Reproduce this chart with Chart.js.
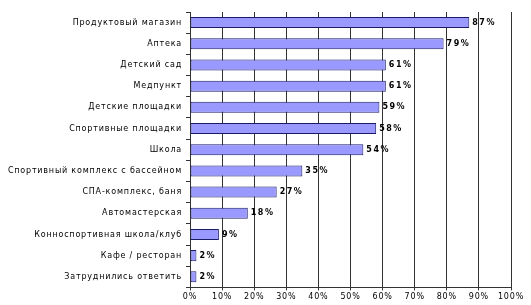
<!DOCTYPE html>
<html>
<head>
<meta charset="utf-8">
<script src="https://cdn.jsdelivr.net/npm/chart.js@4"></script>
<style>
  html, body { margin: 0; padding: 0; background: #fff; }
  #wrap { width: 531px; height: 305px; }
</style>
</head>
<body>
<div id="wrap"><canvas id="chart-objects"></canvas></div>
<script>
  // данные опроса
  const categories = [
    "Продуктовый магазин",
    "Аптека",
    "Детский сад",
    "Медпункт",
    "Детские площадки",
    "Спортивные площадки",
    "Школа",
    "Спортивный комплекс с бассейном",
    "СПА-комплекс, баня",
    "Автомастерская",
    "Конноспортивная школа/клуб",
    "Кафе / ресторан",
    "Затруднились ответить"
  ];
  const values = [87, 79, 61, 61, 59, 58, 54, 35, 27, 18, 9, 2, 2];
  const xTicks = [0, 10, 20, 30, 40, 50, 60, 70, 80, 90, 100];

  const FONT = "'DejaVu Sans', Verdana, sans-serif";

  // разрядка текста (как у Verdana в оригинале)
  const spacing = {
    id: "spacing",
    beforeUpdate(chart) { chart.ctx.letterSpacing = "0.8px"; },
    beforeDraw(chart) { chart.ctx.letterSpacing = "0.8px"; }
  };

  // подписи значений справа от столбцов
  const barLabels = {
    id: "barLabels",
    afterDatasetsDraw(chart) {
      let ctx = chart.ctx;
      let meta = chart.getDatasetMeta(0);
      ctx.save();
      ctx.font = "bold 8px " + FONT;
      ctx.letterSpacing = "1.5px";
      ctx.fillStyle = "#000";
      ctx.textAlign = "left";
      ctx.textBaseline = "middle";
      meta.data.forEach((bar, i) => {
        ctx.fillText(values[i] + "%", bar.x + 3, bar.y);
      });
      ctx.restore();
    }
  };

  let canvas = document.getElementById("chart-objects").getContext("2d");

  let objectsChart = new Chart(canvas, {
    type: "bar",
    data: {
      labels: categories,
      datasets: [{
        data: values,
        backgroundColor: "#9999FF",
        borderColor: "#1a1a66",
        borderWidth: 1,
        borderSkipped: false,
        categoryPercentage: 1,
        barPercentage: 0.52
      }]
    },
    options: {
      indexAxis: "y",
      responsive: true,
      maintainAspectRatio: false,
      animation: false,
      layout: { padding: { top: 12, right: 20, bottom: 1, left: 0 } },
      plugins: {
        legend: { display: false },
        tooltip: { enabled: false }
      },
      scales: {
        x: {
          min: 0,
          max: 100,
          afterBuildTicks: (scale) => { scale.ticks = xTicks.map(v => ({ value: v })); },
          ticks: {
            callback: (v) => v + "%",
            color: "#000",
            font: { family: FONT, size: 8 },
            padding: 2,
            maxRotation: 0
          },
          grid: { color: "#333", lineWidth: 1, tickLength: 3 },
          border: { color: "#333" }
        },
        y: {
          afterFit: (scale) => { scale.width = 190; },
          ticks: {
            color: "#000",
            font: { family: FONT, size: 8 },
            padding: 4,
            autoSkip: false
          },
          grid: { drawOnChartArea: false, color: "#333", tickLength: 4, offset: true },
          border: { color: "#333" }
        }
      }
    },
    plugins: [spacing, barLabels]
  });
</script>
</body>
</html>
